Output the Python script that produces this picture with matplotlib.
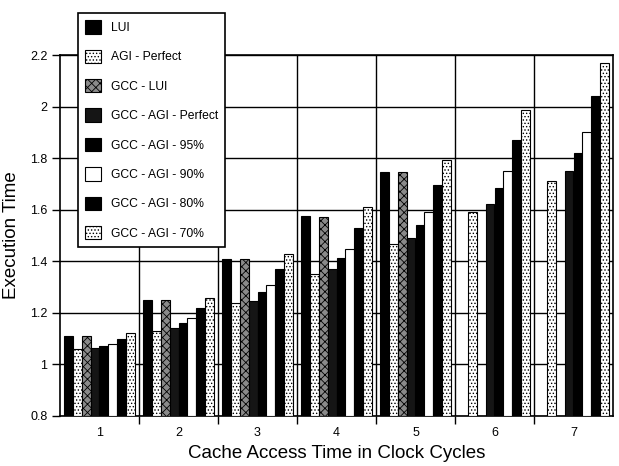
import numpy as np
import matplotlib
matplotlib.use("Agg")
import matplotlib.pyplot as plt

plt.rcParams['font.family'] = ['Liberation Sans', 'DejaVu Sans']
plt.rcParams['hatch.linewidth'] = 0.6

## Data: execution time per cache access latency
cycles = [1, 2, 3, 4, 5, 6, 7]
series = ['LUI', 'AGI - Perfect', 'GCC - LUI', 'GCC - AGI - Perfect',
          'GCC - AGI - 95%', 'GCC - AGI - 90%', 'GCC - AGI - 80%', 'GCC - AGI - 70%']
lui          = [1.11, 1.25, 1.41, 1.575, 1.745, np.nan, np.nan]
agi_perfect  = [1.06, 1.13, 1.24, 1.35, 1.467, 1.59, 1.71]
gcc_lui      = [1.11, 1.25, 1.41, 1.57, 1.745, np.nan, np.nan]
gcc_agi_perf = [1.063, 1.142, 1.247, 1.371, 1.49, 1.621, 1.75]
gcc_agi_95   = [1.073, 1.162, 1.281, 1.411, 1.541, 1.683, 1.82]
gcc_agi_90   = [1.081, 1.181, 1.307, 1.447, 1.592, 1.751, 1.90]
gcc_agi_80   = [1.10, 1.22, 1.37, 1.531, 1.695, 1.872, 2.04]
gcc_agi_70   = [1.121, 1.259, 1.43, 1.61, 1.794, 1.987, 2.17]
values = [lui, agi_perfect, gcc_lui, gcc_agi_perf,
          gcc_agi_95, gcc_agi_90, gcc_agi_80, gcc_agi_70]

# fill / hatch per series (stipple patterns imitated with dots)
faces   = ['black', 'white', '#8a8a8a', '#151515', 'black', 'white', 'black', 'white']
hatches = [None, '.....', 'xxxx', None, None, None, None, '.....']

fig = plt.figure(figsize=(6.19, 4.66), dpi=100)
ax = fig.add_axes([60/619, 1-416/466, 553/619, 361/466])

n = len(series)
width = 0.9 / n
x = np.array(cycles, dtype=float)
for i in range(n):
    v = np.array(values[i], dtype=float)
    ok = ~np.isnan(v)
    pos = x + (i - (n-1)/2) * width
    ax.bar(pos[ok], v[ok] - 0.8, width, bottom=0.8, color=faces[i],
           edgecolor='black', linewidth=0.8, hatch=hatches[i], zorder=3,
           label=series[i])

ax.set_xlim(0.5, 7.5)
ax.set_ylim(0.8, 2.2)
yt = [0.8, 1.0, 1.2, 1.4, 1.6, 1.8, 2.0, 2.2]
ax.set_yticks(yt)
ax.set_yticklabels(['0.8', '1', '1.2', '1.4', '1.6', '1.8', '2', '2.2'])
ax.set_xticks(cycles)
ax.set_xticklabels([str(c) for c in cycles])
ax.set_xticks(np.arange(1.5, 7.5, 1), minor=True)
ax.tick_params(axis='x', which='major', length=0, pad=8, labelsize=9)
ax.tick_params(axis='x', which='minor', length=6, width=1, direction='out')
ax.tick_params(axis='y', length=6, width=1, direction='out', labelsize=9, pad=3)

ax.grid(axis='y', which='major', color='black', linewidth=1, zorder=0)
ax.grid(axis='x', which='minor', color='black', linewidth=1, zorder=0)
ax.set_axisbelow(True)
for s in ax.spines.values():
    s.set_linewidth(1.2)

ax.set_ylabel('Execution Time', fontsize=13.5)
ax.yaxis.set_label_coords(-0.072, 0.5)
ax.set_xlabel('Cache Access Time in Clock Cycles', fontsize=13.5, labelpad=4)

handles, labels = ax.get_legend_handles_labels()
leg = fig.legend(handles, labels, loc='upper left',
                 bbox_to_anchor=(78/619, 1-13/466), fontsize=8.7,
                 frameon=True, fancybox=False, edgecolor='black',
                 framealpha=1, handlelength=1.32, handleheight=1.32,
                 labelspacing=1.3, handletextpad=0.8, borderpad=0.6,
                 borderaxespad=0)
leg.get_frame().set_linewidth(1.2)

fig.savefig('out.png', dpi=100)
